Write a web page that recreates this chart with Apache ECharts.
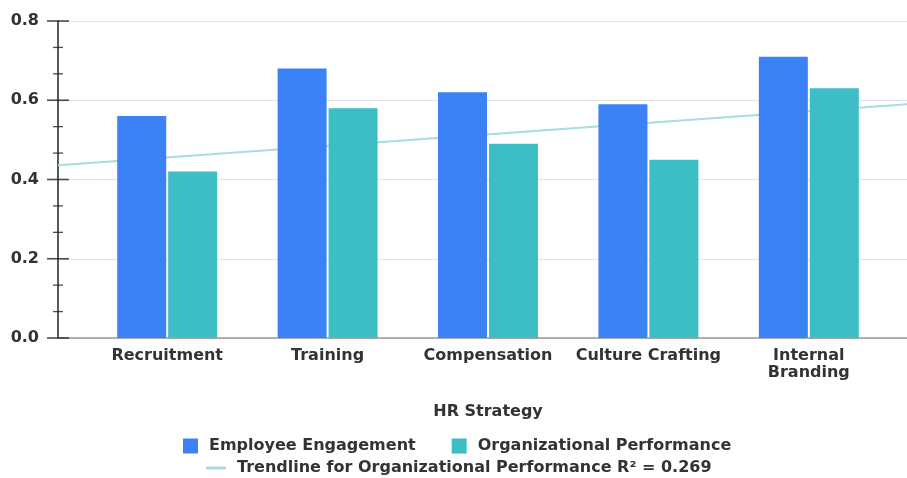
<!DOCTYPE html>
<html>
<head>
<meta charset="utf-8">
<script src="https://cdn.jsdelivr.net/npm/echarts@6/dist/echarts.min.js"></script>
<style>html,body{margin:0;padding:0;background:#fff}#c{width:907px;height:478px}</style>
</head>
<body>
<div id="c"></div>
<script>
const categories = ['Recruitment', 'Training', 'Compensation', 'Culture Crafting', 'Internal\nBranding'];
const engagement = [0.56, 0.68, 0.62, 0.59, 0.71];
const performance = [0.42, 0.58, 0.49, 0.45, 0.63];
const yTicks = [0, 0.2, 0.4, 0.6, 0.8];
const minorPerMajor = 3;

// linear regression of performance on category index
const n = performance.length;
const xs = performance.map((_, i) => i);
const mx = xs.reduce((a, b) => a + b, 0) / n;
const my = performance.reduce((a, b) => a + b, 0) / n;
let sxy = 0, sxx = 0, syy = 0;
for (let i = 0; i < n; i++) { sxy += (xs[i] - mx) * (performance[i] - my); sxx += (xs[i] - mx) ** 2; syy += (performance[i] - my) ** 2; }
const slope = sxy / sxx, icpt = my - slope * mx;
const r2 = (sxy * sxy) / (sxx * syy);

// layout
const axisX = 58, chartW = 907, catLeft = 87, catWidth = 802;
const band = catWidth / n;
const uMin = (axisX - catLeft) / band - 0.5;
const uMax = (chartW - catLeft) / band - 0.5;
const trend = [[uMin, icpt + slope * uMin], [uMax, icpt + slope * uMax]];

// axis tick marks (crossing the y axis line)
const majorTicks = yTicks.map(v => [uMin, v]);
const minorTicks = [];
for (let i = 0; i < yTicks.length - 1; i++) {
  const step = (yTicks[i + 1] - yTicks[i]) / minorPerMajor;
  for (let k = 1; k < minorPerMajor; k++) minorTicks.push([uMin, yTicks[i] + k * step]);
}

const font = 'DejaVu Sans';
const txt = { color: '#333', fontFamily: font, fontWeight: 'bold', fontSize: 16 };
const trendName = 'Trendline for Organizational Performance R\u00b2 = ' + r2.toFixed(3);
const yMin = yTicks[0], yMax = yTicks[yTicks.length - 1], yStep = yTicks[1] - yTicks[0];
const tickColor = '#222';

const chart = echarts.init(document.getElementById('c'));
chart.setOption({
  animation: false,
  grid: [
    { left: axisX, right: 0, top: 21, bottom: 140 },
    { left: catLeft, width: catWidth, top: 21, bottom: 140 }
  ],
  legend: [
    { data: ['Employee Engagement', 'Organizational Performance'], left: 178, top: 433, itemWidth: 15, itemHeight: 15, itemGap: 36, textStyle: Object.assign({}, txt, {padding: [0,0,0,6]}), icon: 'rect' },
    { data: [{ name: trendName, icon: 'rect' }], left: 201, top: 455, itemWidth: 20, itemHeight: 3, textStyle: Object.assign({}, txt, {padding: [0,0,0,6]}) }
  ],
  xAxis: [
    { type: 'value', gridIndex: 0, min: uMin, max: uMax, show: true,
      axisLine: { show: true, onZero: false, lineStyle: { color: '#999', width: 1.5 } },
      axisTick: { show: false }, axisLabel: { show: false }, splitLine: { show: false } },
    { type: 'category', gridIndex: 1, data: categories,
      axisLine: { show: false }, axisTick: { show: false },
      axisLabel: Object.assign({}, txt, { margin: 9, lineHeight: 17, interval: 0 }),
      name: 'HR Strategy', nameLocation: 'middle', nameGap: 66, nameTextStyle: txt }
  ],
  yAxis: [
    { type: 'value', gridIndex: 0, min: yMin, max: yMax, interval: yStep, position: 'left',
      axisLine: { show: true, onZero: false, lineStyle: { color: tickColor, width: 1.5 } },
      axisTick: { show: false },
      axisLabel: Object.assign({}, txt, { margin: 19, formatter: v => v.toFixed(1) }),
      splitLine: { show: true, lineStyle: { color: '#e2e2e2', width: 1.2 } } },
    { type: 'value', gridIndex: 1, min: yMin, max: yMax, show: false }
  ],
  series: [
    { name: trendName, type: 'line', xAxisIndex: 0, yAxisIndex: 0, data: trend,
      symbol: 'none', lineStyle: { color: '#a8dde1', width: 2 }, itemStyle: { color: '#a8dde1' }, z: 1 },
    { name: 'Employee Engagement', type: 'bar', xAxisIndex: 1, yAxisIndex: 1, data: engagement,
      barWidth: 49, barGap: '4%', itemStyle: { color: '#3b82f6' }, z: 2 },
    { name: 'Organizational Performance', type: 'bar', xAxisIndex: 1, yAxisIndex: 1, data: performance,
      barWidth: 49, barGap: '4%', itemStyle: { color: '#3dbdc4' }, z: 2 },
    { name: 'majorTicks', type: 'scatter', xAxisIndex: 0, yAxisIndex: 0, data: majorTicks, clip: false, silent: true,
      symbol: 'rect', symbolSize: [22, 1.6], itemStyle: { color: tickColor }, z: 5 },
    { name: 'minorTicks', type: 'scatter', xAxisIndex: 0, yAxisIndex: 0, data: minorTicks, clip: false, silent: true,
      symbol: 'rect', symbolSize: [10, 1.3], itemStyle: { color: tickColor }, z: 5 }
  ]
});
</script>
</body>
</html>
